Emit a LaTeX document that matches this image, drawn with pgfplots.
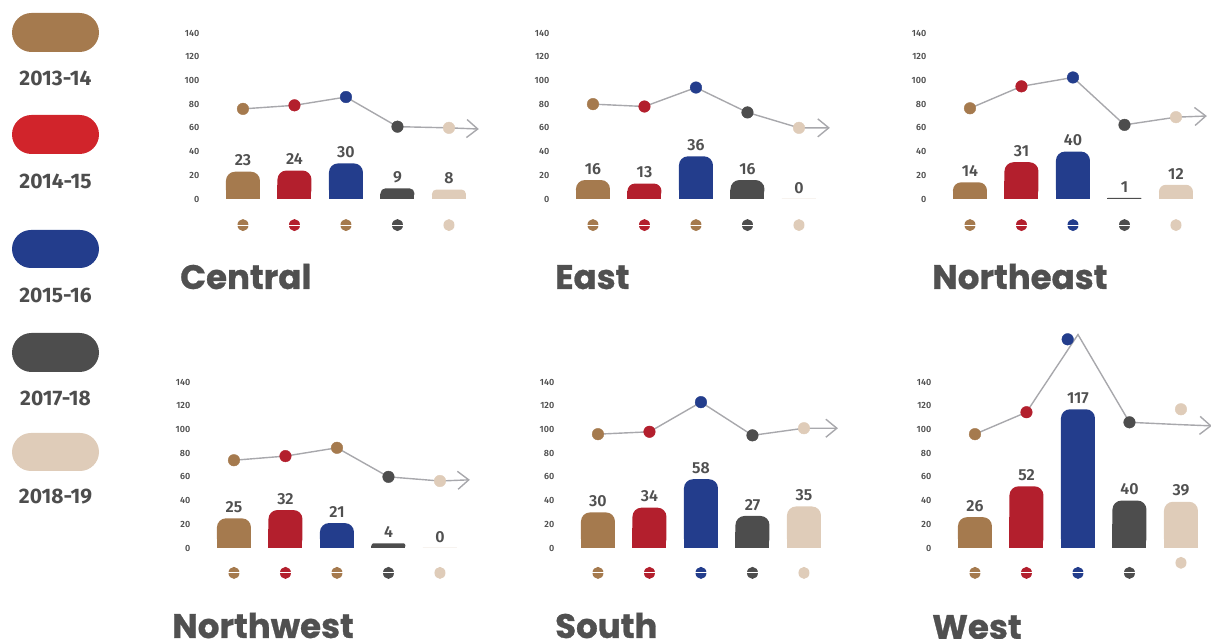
\documentclass[border=0pt]{standalone}
\usepackage{fontspec}
\setmainfont{Fira Sans}
\newfontfamily\titlefont{Poppins}[BoldFeatures={FakeBold=0.8}]
\newfontfamily\semifont{Fira Sans SemiBold}
\usepackage{pgfplots}
\usepackage{pgfplotstable}
\pgfplotsset{compat=1.18}
\usetikzlibrary{arrows.meta}

\definecolor{cbrown}{HTML}{A57A4E}
\definecolor{cred}{HTML}{B31F2D}
\definecolor{credL}{HTML}{D1242B}
\definecolor{cblue}{HTML}{233D8C}
\definecolor{cdark}{HTML}{4D4D4D}
\definecolor{cbeige}{HTML}{DFCCB9}
\definecolor{txt}{HTML}{505050}
\definecolor{lgray}{HTML}{A8A8AC}

\pgfdeclareplotmark{bean}{%
  \pgfpathellipse{\pgfpointorigin}{\pgfpoint{0.92\pgfplotmarksize}{0pt}}{\pgfpoint{0pt}{\pgfplotmarksize}}%
  \pgfusepathqfill
  {\pgfsetstrokecolor{white}\pgfsetlinewidth{0.8pt}%
  \pgfpathmoveto{\pgfpoint{-\pgfplotmarksize}{0pt}}%
  \pgfpathlineto{\pgfpoint{\pgfplotmarksize}{0pt}}%
  \pgfusepathqstroke}}
\pgfdeclareplotmark{oval}{%
  \pgfpathellipse{\pgfpointorigin}{\pgfpoint{0.92\pgfplotmarksize}{0pt}}{\pgfpoint{0pt}{\pgfplotmarksize}}%
  \pgfusepathqfill}

\pgfplotsset{
  panelstyle/.style={anchor=south west, scale only axis, width=287.37pt, height=166pt,
    xmin=-0.78, xmax=4.8, ymin=0, ymax=140, clip=false,
    axis line style={draw=none}, tick style={draw=none}, xtick=\empty,
    ytick={0,20,...,140},
    yticklabel style={font=\semifont\fontsize{9}{10}\selectfont, text=txt},
    /pgf/number format/assume math mode=true},
  dotclasses/.style={scatter, only marks, mark size=5.8pt, scatter src=explicit symbolic,
    scatter/classes={b={mark=*,cbrown}, r={mark=*,cred}, u={mark=*,cblue}, d={mark=*,cdark}, e={mark=*,cbeige}}},
  beanclasses/.style={scatter, only marks, mark size=6pt, scatter src=explicit symbolic,
    scatter/classes={b={mark=bean,cbrown}, r={mark=bean,cred}, u={mark=bean,cblue}, d={mark=bean,cdark}, e={mark=oval,cbeige}}},
  barstyle/.style={ybar, bar width=34pt, bar shift=0pt, draw=none, fill=#1},
}

% #1 x, #2 value, #3 colour, #4 corner radius
\newcommand\pbar[4]{%
  \addplot[barstyle=#3, rounded corners=#4, nodes near coords,
    every node near coord/.append style={font=\semifont\fontsize{16}{16}\selectfont, text=txt, yshift=2pt}]
    coordinates {(#1,#2)};
  \addplot[barstyle=#3, y filter/.expression={y/2}] coordinates {(#1,#2)};
}

% #1 left, #2 bottom, #3 bars, #4 line, #5 marks, #6 beans
\newcommand\panel[6]{%
  \begin{axis}[panelstyle, at={(#1pt,#2pt)}]
    #3
    \addplot[lgray, line width=1.4pt, -{Straight Barb[length=11pt,width=18pt,line width=1.4pt]}] table[x=x,y=y]{#4};
    \addplot[dotclasses] table[x=x,y=y,meta=c]{#5};
    \addplot[beanclasses] table[x=x,y=y,meta=c]{#6};
  \end{axis}}

% ---------------- data ----------------
\pgfplotstableread{
x y
0 76
1 79
2 86
3 61
4 60
4.58 59
}\cenLine
\pgfplotstableread{
x y c
0 76 b
1 79 r
2 86 u
3 61 d
4 60 e
}\cenMarks
\pgfplotstableread{
x y c
0 -22 b
1 -22 r
2 -22 b
3 -22 d
4 -22 e
}\cenBeans

\pgfplotstableread{
x y
0 80
1 78
2 94
3 73
4 60
4.6 60
}\eastLine
\pgfplotstableread{
x y c
0 80 b
1 78 r
2 94 u
3 73 d
4 60 e
}\eastMarks
\pgfplotstableread{
x y c
0 -22 b
1 -22 r
2 -22 b
3 -22 d
4 -22 e
}\eastBeans

\pgfplotstableread{
x y
0 76.5
1 95
2 102.5
3 62.5
4 69
4.6 70
}\neLine
\pgfplotstableread{
x y c
0 76.5 b
1 95 r
2 102.5 u
3 62.5 d
4 69 e
}\neMarks
\pgfplotstableread{
x y c
0 -22 b
1 -22 r
2 -22 u
3 -22 d
4 -22 e
}\neBeans

\pgfplotstableread{
x y
0 74
1 77.5
2 84.5
3 60
4 56.5
4.58 57.5
}\nwLine
\pgfplotstableread{
x y c
0 74 b
1 77.5 r
2 84.5 b
3 60 d
4 56.5 e
}\nwMarks
\pgfplotstableread{
x y c
0 -21 b
1 -21 r
2 -21 b
3 -21 d
4 -21 e
}\nwBeans

\pgfplotstableread{
x y
0 96
1 98
2 123
3 95
4 101
4.66 101
}\soLine
\pgfplotstableread{
x y c
0 96 b
1 98 r
2 123 u
3 95 d
4 101 e
}\soMarks
\pgfplotstableread{
x y c
0 -21 b
1 -21 r
2 -21 u
3 -21 d
4 -21 e
}\soBeans

\pgfplotstableread{
x y
0 96
1 114.5
2 180
3 106
4 104
4.6 103
}\weLine
\pgfplotstableread{
x y c
0 96 b
1 114.5 r
1.8 176 u
3 106 d
4 117 e
}\weMarks
\pgfplotstableread{
x y c
0 -21 b
1 -21 r
2 -21 u
3 -21 d
4 -12.5 e
}\weBeans

\begin{document}
\begin{tikzpicture}[x=1pt,y=1pt]
\path[use as bounding box] (0,0) rectangle (1211,639);

% legend
\fill[cbrown, rounded corners=19.5pt] (12,587) rectangle (99,626);
\fill[credL, rounded corners=19.5pt] (12,485) rectangle (99,524);
\fill[cblue, rounded corners=19pt] (12,371) rectangle (99,409);
\fill[cdark, rounded corners=19.5pt] (12,267) rectangle (99,306);
\fill[cbeige, rounded corners=19pt] (12,168) rectangle (99,206);
\begin{scope}[every node/.style={font=\bfseries\fontsize{21}{21}\selectfont, text=cdark, inner sep=0pt}]
\node at (55.5,561) {2013-14};
\node at (55.5,458) {2014-15};
\node at (55.5,344) {2015-16};
\node at (55.5,241) {2017-18};
\node at (55.5,142) {2018-19};
\end{scope}

% panels
\panel{202.8}{440}{%
  \pbar{0}{23}{cbrown}{9pt}\pbar{1}{24}{cred}{9pt}\pbar{2}{30}{cblue}{9pt}\pbar{3}{9}{cdark}{5pt}\pbar{4}{8}{cbeige}{4.5pt}}{\cenLine}{\cenMarks}{\cenBeans}
\panel{552.8}{440}{%
  \pbar{0}{16}{cbrown}{9pt}\pbar{1}{13}{cred}{7.5pt}\pbar{2}{36}{cblue}{9pt}\pbar{3}{16}{cdark}{9pt}\pbar{4}{0}{cbeige}{0pt}}{\eastLine}{\eastMarks}{\eastBeans}
\panel{929.8}{440}{%
  \pbar{0}{14}{cbrown}{8pt}\pbar{1}{31}{cred}{9pt}\pbar{2}{40}{cblue}{9pt}\pbar{3}{1}{cdark}{0.5pt}\pbar{4}{12}{cbeige}{7pt}}{\neLine}{\neMarks}{\neBeans}
\panel{193.8}{91}{%
  \pbar{0}{25}{cbrown}{9pt}\pbar{1}{32}{cred}{9pt}\pbar{2}{21}{cblue}{9pt}\pbar{3}{4}{cdark}{2.3pt}\pbar{4}{0}{cbeige}{0pt}}{\nwLine}{\nwMarks}{\nwBeans}
\panel{557.8}{91}{%
  \pbar{0}{30}{cbrown}{9pt}\pbar{1}{34}{cred}{9pt}\pbar{2}{58}{cblue}{9pt}\pbar{3}{27}{cdark}{9pt}\pbar{4}{35}{cbeige}{9pt}}{\soLine}{\soMarks}{\soBeans}
\panel{934.8}{91}{%
  \pbar{0}{26}{cbrown}{9pt}\pbar{1}{52}{cred}{9pt}\pbar{2}{117}{cblue}{9pt}\pbar{3}{40}{cdark}{9pt}\pbar{4}{39}{cbeige}{9pt}}{\weLine}{\weMarks}{\weBeans}

% titles
\begin{scope}[every node/.style={anchor=base west, inner sep=0pt, font=\titlefont\bfseries\fontsize{34}{34}\selectfont, text=txt}]
\node at (180,350) {Central};
\node at (555,350) {East};
\node at (932,350) {Northeast};
\node at (172,1) {Northwest};
\node at (555,1) {South};
\node at (932,0) {West};
\end{scope}
\end{tikzpicture}
\end{document}
